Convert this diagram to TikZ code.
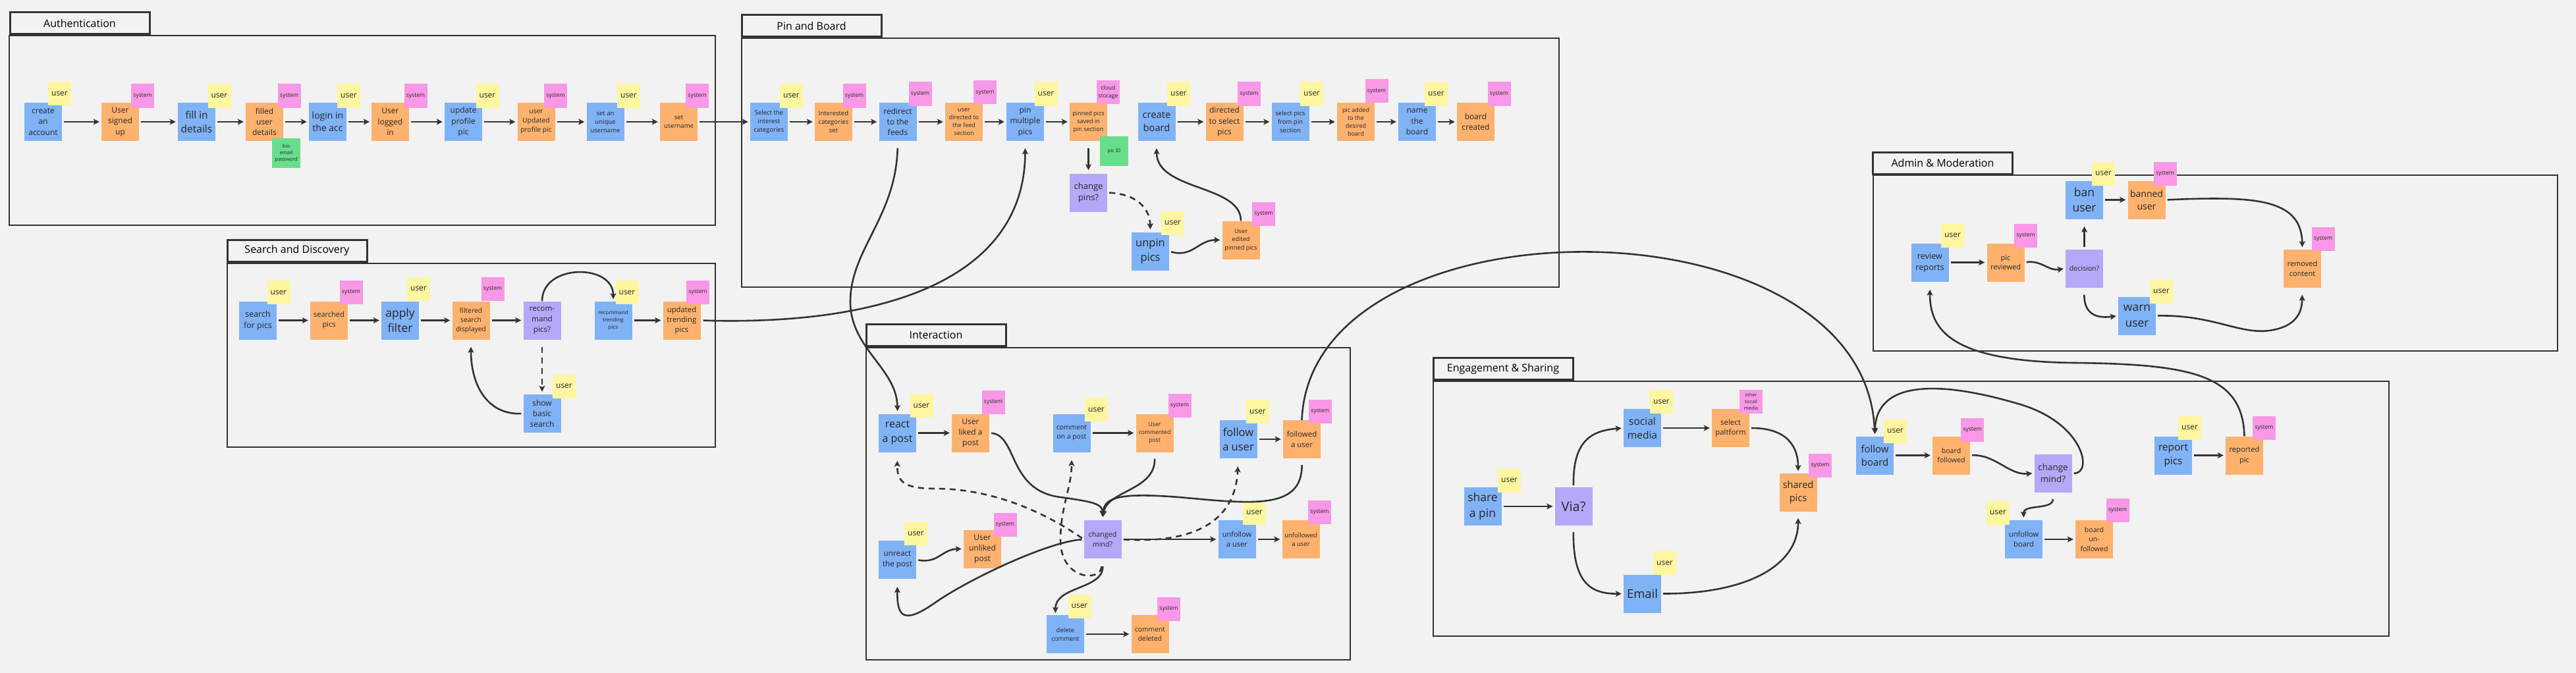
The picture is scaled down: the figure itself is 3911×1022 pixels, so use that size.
\documentclass[tikz,border=0pt]{standalone}
\usepackage{fontspec}
\setmainfont{Open Sans}
\usepackage{xcolor}
\usetikzlibrary{arrows.meta, positioning}
\definecolor{bg}{HTML}{F2F2F2}
\definecolor{ink}{HTML}{333333}
\definecolor{skyb}{HTML}{80B2F6}
\definecolor{peach}{HTML}{FFB26E}
\definecolor{lemon}{HTML}{FFF6A0}
\definecolor{rose}{HTML}{F898E6}
\definecolor{lilac}{HTML}{B6A8F8}
\definecolor{mint}{HTML}{68DE8C}

\begin{document}
\begin{tikzpicture}[x=1pt, y=-1pt,
    fs/.style={font={\pgfmathsetmacro\fsb{1.36*#1}\fontsize{#1}{\fsb}\selectfont}},
    sticky/.style={minimum width=57pt, minimum height=58pt, inner sep=0pt, align=center, text=black!85},
    act/.style={sticky, fill=skyb},
    evt/.style={sticky, fill=peach},
    ask/.style={sticky, fill=lilac},
    tag/.style={minimum width=35pt, minimum height=36pt, inner sep=0pt, align=center, text=black!85},
    usr/.style={tag, fill=lemon, fs=12},
    sys/.style={tag, fill=rose, fs=8.5},
    note/.style={tag, fill=mint, minimum width=43pt, minimum height=45pt, fs=7.6},
    flow/.style={draw=ink, line width=2.6pt, -{Stealth[length=9pt, width=9pt, inset=2pt]}, shorten <=3pt, shorten >=3pt},
    maybe/.style={flow, dash pattern=on 9pt off 7pt},
    lane/.style={draw=ink, line width=2.5pt},
    ttl/.style={draw=ink, line width=3pt, fill=bg, minimum width=212pt, minimum height=33pt, inner sep=0pt, fs=16}
  ]

    % Canvas
    \fill[bg] (0,0) rectangle (3911,1022);
    \useasboundingbox (0,0) rectangle (3911,1022);

    % Lanes with their title tabs
    \draw[lane] (14,54) rectangle (1086,342);
    \node[ttl] (authT) at (121,35.5) {Authentication};
    \draw[lane] (1126,58) rectangle (2367,436);
    \node[ttl] (pinT) at (1232,39.5) {Pin and Board};
    \draw[lane] (345,400) rectangle (1086,679);
    \node[ttl] (searchT) at (451,380.5) {Search and Discovery};
    \draw[lane] (1315,528) rectangle (2050,1002);
    \node[ttl] (interT) at (1421,509) {Interaction};
    \draw[lane] (2844,266) rectangle (3883,533);
    \node[ttl] (adminT) at (2949.5,247.5) {Admin \& Moderation};
    \draw[lane] (2176,579) rectangle (3627,966);
    \node[ttl] (engT) at (2282,560) {Engagement \& Sharing};

    % --- AUTHENTICATION ---
    \node[act, fs=12] (acc) at (65.5,185) {create\\an\\account};
    \node[evt, fs=12] (signed) at (182.5,185) {User\\signed\\up};
    \node[act, fs=15.5] (fill) at (298.5,185) {fill in\\details};
    \node[evt, fs=12] (filled) at (401.5,185) {filled\\user\\details};
    \node[act, fs=14] (login) at (497.5,185) {login in\\the acc};
    \node[evt, fs=12] (logged) at (592.5,185) {User\\logged\\in};
    \node[act, fs=12] (upd) at (703.5,185) {update\\profile\\pic};
    \node[evt, fs=10.3] (updd) at (814,185) {user\\Updated\\profile pic};
    \node[act, fs=9.5] (setun) at (919,185) {set an\\unique\\username};
    \node[evt, fs=9.5] (setd) at (1030.5,185) {set\\username};
    \node[usr] (accU) at (90.5,142) {user};
    \node[sys] (signedS) at (216.5,145.5) {system};
    \node[usr] (fillU) at (333,145.5) {user};
    \node[sys] (filledS) at (439,145.5) {system};
    \node[note] (filledN) at (434.5,232.5) {bio\\email\\password};
    \node[usr] (loginU) at (529.5,145.5) {user};
    \node[sys] (loggedS) at (631,145.5) {system};
    \node[usr] (updU) at (740,145.5) {user};
    \node[sys] (upddS) at (843.5,145.5) {system};
    \node[usr] (setunU) at (954.5,145.5) {user};
    \node[sys] (setdS) at (1058.5,145.5) {system};

    % --- PIN AND BOARD ---
    \node[act, fs=9.5] (sel) at (1167.5,185) {Select the\\interest\\categories};
    \node[evt, fs=9.5] (intset) at (1265.5,185) {Interested\\categories\\set};
    \node[act, fs=12] (redir) at (1363,185) {redirect\\to the\\feeds};
    \node[evt, fs=9] (feedsec) at (1463.5,185) {user\\directed to\\the feed\\section};
    \node[act, fs=12] (pinmul) at (1556.5,185) {pin\\multiple\\pics};
    \node[evt, fs=9] (pinsaved) at (1652.5,185) {pinned pics\\saved in\\pin section};
    \node[ask, fs=13] (cpins) at (1652.5,292.5) {change\\pins?};
    \node[act, fs=16.5] (unpin) at (1746.5,381.5) {unpin\\pics};
    \node[evt, fs=9.2] (edited) at (1884,364.5) {User\\edited\\pinned pics};
    \node[act, fs=14.7] (cboard) at (1756,185) {create\\board};
    \node[evt, fs=12] (dirsel) at (1859,185) {directed\\to select\\pics};
    \node[act, fs=9.5] (selpics) at (1959,185) {select pics\\from pin\\section};
    \node[evt, fs=9] (picadd) at (2058.5,185) {pic added\\to the\\desired\\board};
    \node[act, fs=12] (nameb) at (2151.5,185) {name\\the\\board};
    \node[evt, fs=12] (bcreated) at (2240.5,185) {board\\created};
    \node[usr] (selU) at (1201.5,145.5) {user};
    \node[sys] (intsetS) at (1297,145.5) {system};
    \node[sys] (redirS) at (1397,142.5) {system};
    \node[sys] (feedsecS) at (1495.5,140.5) {system};
    \node[usr] (pinmulU) at (1588,142.5) {user};
    \node[sys, fs=8.5] (pinsavedS) at (1682.5,140.5) {cloud\\storage};
    \node[note] (pinsavedN) at (1691.5,229.5) {pic ID};
    \node[usr] (unpinU) at (1780.5,338.5) {user};
    \node[sys] (editedS) at (1918.5,325) {system};
    \node[usr] (cboardU) at (1789.5,142.5) {user};
    \node[sys] (dirselS) at (1896.5,142.5) {system};
    \node[usr] (selpicsU) at (1991.5,142.5) {user};
    \node[sys] (picaddS) at (2090,138.5) {system};
    \node[usr] (namebU) at (2180.5,142.5) {user};
    \node[sys] (bcreatedS) at (2276,142.5) {system};

    % --- SEARCH AND DISCOVERY ---
    \node[act, fs=12.5] (srch) at (391.5,486.5) {search\\for pics};
    \node[evt, fs=11] (srchd) at (499.5,486.5) {searched\\pics};
    \node[act, fs=17.5] (filt) at (607.5,486.5) {apply\\filter};
    \node[evt, fs=10.3] (filtd) at (715,486.5) {filtered\\search\\displayed};
    \node[ask, fs=11.7] (recq) at (823,486.5) {recom-\\mand\\pics?};
    \node[act, fs=8] (rectr) at (931,486.5) {recommand\\trending\\pics};
    \node[evt, fs=11.3] (updtr) at (1035,486.5) {updated\\trending\\pics};
    \node[act, fs=12] (basic) at (823,628) {show\\basic\\search};
    \node[usr] (srchU) at (423,444) {user};
    \node[sys] (srchdS) at (533,444) {system};
    \node[usr] (filtU) at (635.5,438.5) {user};
    \node[sys] (filtdS) at (748,438.5) {system};
    \node[usr] (rectrU) at (952,444) {user};
    \node[sys] (updtrS) at (1059.5,444) {system};
    \node[usr] (basicU) at (856.5,586.5) {user};

    % --- INTERACTION ---
    \node[act, fs=16] (react) at (1362.5,657.5) {react\\a post};
    \node[evt, fs=12] (liked) at (1473.5,657.5) {User\\liked a\\post};
    \node[act, fs=10.3] (cmt) at (1627,657.5) {comment\\on a post};
    \node[evt, fs=8.6] (cmtd) at (1753,657.5) {User\\commented\\post};
    \node[act, fs=16.5] (fol) at (1880,667) {follow\\a user};
    \node[evt, fs=11.4] (fold) at (1976.5,667) {followed\\a user};
    \node[act, fs=11.7] (unreact) at (1362.5,850) {unreact\\the post};
    \node[evt, fs=12] (unliked) at (1491.5,833.5) {User\\unliked\\post};
    \node[ask, fs=10.7] (cmind) at (1674,819) {changed\\mind?};
    \node[act, fs=11] (unfol) at (1878,819) {unfollow\\a user};
    \node[evt, fs=9.5] (unfold) at (1975,819) {unfollowed\\a user};
    \node[act, fs=9.5] (delc) at (1617.5,963) {delete\\comment};
    \node[evt, fs=10.3] (cdel) at (1746,963) {comment\\deleted};
    \node[usr] (reactU) at (1399,616) {user};
    \node[sys] (likedS) at (1508,610.5) {system};
    \node[usr] (cmtU) at (1664.5,622) {user};
    \node[sys] (cmtdS) at (1791,616) {system};
    \node[usr] (folU) at (1909.5,625) {user};
    \node[sys] (foldS) at (2004.5,625) {system};
    \node[usr] (unreactU) at (1390.5,810) {user};
    \node[sys] (unlikedS) at (1526,796.5) {system};
    \node[usr] (unfolU) at (1904.5,778.5) {user};
    \node[sys] (unfoldS) at (2003.5,778) {system};
    \node[usr] (delcU) at (1639,920.5) {user};
    \node[sys] (cdelS) at (1774.5,925) {system};

    % --- ADMIN & MODERATION ---
    \node[act, fs=12.7] (review) at (2930,398.5) {review\\reports};
    \node[evt, fs=11] (picrev) at (3045,398.5) {pic\\reviewed};
    \node[ask, fs=10.6] (dec) at (3164.5,407.5) {decision?};
    \node[act, fs=17.5] (ban) at (3164.5,303.5) {ban\\user};
    \node[evt, fs=14] (banned) at (3259,303.5) {banned\\user};
    \node[act, fs=17.5] (warn) at (3244.5,479.5) {warn\\user};
    \node[evt, fs=11] (removed) at (3495.5,407.5) {removed\\content};
    \node[usr] (reviewU) at (2964.5,357.5) {user};
    \node[sys] (picrevS) at (3075.5,357.5) {system};
    \node[usr] (banU) at (3193.5,263.5) {user};
    \node[sys] (bannedS) at (3287,263.5) {system};
    \node[usr] (warnU) at (3281.5,442.5) {user};
    \node[sys] (removedS) at (3527,363) {system};

    % --- ENGAGEMENT & SHARING ---
    \node[act, fs=17.5] (share) at (2251,769) {share\\a pin};
    \node[ask, fs=20] (via) at (2389,769) {Via?};
    \node[act, fs=15.5] (social) at (2493.5,650) {social\\media};
    \node[evt, fs=11.4] (platf) at (2627.5,650) {select\\paltform};
    \node[evt, fs=14.5] (shared) at (2730,747.5) {shared\\pics};
    \node[act, fs=18.4] (email) at (2493.5,901.5) {Email};
    \node[act, fs=14.9] (fboard) at (2846.5,691.5) {follow\\board};
    \node[evt, fs=10.6] (bfold) at (2962.5,691.5) {board\\followed};
    \node[ask, fs=13.4] (chmind) at (3117,718.5) {change\\mind?};
    \node[act, fs=11.2] (unfb) at (3072.5,819) {unfollow\\board};
    \node[evt, fs=10.5] (bunf) at (3179.5,819) {board\\un-\\followed};
    \node[act, fs=15.4] (rep) at (3299.5,691.5) {report\\pics};
    \node[evt, fs=11.2] (repd) at (3407.5,691.5) {reported\\pic};
    \node[usr] (shareU) at (2291.5,729.5) {user};
    \node[usr] (socialU) at (2522.5,610) {user};
    \node[sys, fs=7.3] (platfS) at (2658.5,610) {other\\socail\\media};
    \node[sys] (sharedS) at (2763.5,706.5) {system};
    \node[usr] (emailU) at (2527.5,855) {user};
    \node[usr] (fboardU) at (2877.5,654.5) {user};
    \node[sys] (bfoldS) at (2994.5,652.5) {system};
    \node[usr] (unfbU) at (3033.5,778.5) {user};
    \node[sys] (bunfS) at (3215,774.5) {system};
    \node[usr] (repU) at (3324.5,649.5) {user};
    \node[sys] (repdS) at (3437.5,649.5) {system};

    % --- CONNECTORS: authentication into pin and board ---
    \draw[flow] (acc.east) -- (signed.west);
    \draw[flow] (signed.east) -- (fill.west);
    \draw[flow] (fill.east) -- (filled.west);
    \draw[flow] (filled.east) -- (login.west);
    \draw[flow] (login.east) -- (logged.west);
    \draw[flow] (logged.east) -- (upd.west);
    \draw[flow] (upd.east) -- (updd.west);
    \draw[flow] (updd.east) -- (setun.west);
    \draw[flow] (setun.east) -- (setd.west);
    \draw[flow] (setd.east) -- (sel.west);

    % Pin and board
    \draw[flow] (sel.east) -- (intset.west);
    \draw[flow] (intset.east) -- (redir.west);
    \draw[flow] (redir.east) -- (feedsec.west);
    \draw[flow] (feedsec.east) -- (pinmul.west);
    \draw[flow] (pinmul.east) -- (pinsaved.west);
    \draw[flow, shorten <=11pt, shorten >=5pt] (pinsaved.south) -- (cpins.north);
    \draw[maybe, shorten >=4pt] (cpins.east) .. controls (1730,295) and (1746,320) .. (unpin.north);
    \draw[flow] (unpin.east) .. controls (1810,392) and (1820,364) .. (edited.west);
    \draw[flow, shorten <=0pt, shorten >=11pt] (edited.north) .. controls (1884,280) and (1756,290) .. (cboard.south);
    \draw[flow] (cboard.east) -- (dirsel.west);
    \draw[flow] (dirsel.east) -- (selpics.west);
    \draw[flow] (selpics.east) -- (picadd.west);
    \draw[flow] (picadd.east) -- (nameb.west);
    \draw[flow] (nameb.east) -- (bcreated.west);

    % Search and discovery
    \draw[flow] (srch.east) -- (srchd.west);
    \draw[flow] (srchd.east) -- (filt.west);
    \draw[flow] (filt.east) -- (filtd.west);
    \draw[flow] (filtd.east) -- (recq.west);
    \draw[flow] (rectr.east) -- (updtr.west);
    \draw[flow, shorten <=0pt] (recq.north) .. controls (823,400) and (931,400) .. (rectr.north);
    \draw[maybe, shorten <=11pt, shorten >=4pt] (recq.south) -- (basic.north);
    \draw[flow, shorten >=11pt] (basic.west) .. controls (740,630) and (715,585) .. (filtd.south);

    % Links across lanes
    \draw[flow, shorten <=11pt, shorten >=4pt] (redir.south) .. controls (1360,330) and (1290,380) .. (1291,460) .. controls (1292,530) and (1362,560) .. (react.north);
    \draw[flow, shorten <=4pt, shorten >=11pt] (updtr.east) .. controls (1350,495) and (1556,420) .. (pinmul.south);
    \draw[flow, shorten <=0pt, shorten >=4pt] (fold.north) .. controls (1990,295) and (2830,295) .. (fboard.north);
    \draw[flow, shorten <=0pt, shorten >=12pt] (repd.north) .. controls (3405,570) and (3330,553) .. (3150,551) .. controls (2960,549) and (2930,500) .. (review.south);

    % Interaction
    \draw[flow] (react.east) -- (liked.west);
    \draw[flow] (cmt.east) -- (cmtd.west);
    \draw[flow] (fol.east) -- (fold.west);
    \draw[flow] (unreact.east) .. controls (1425,856) and (1430,834) .. (unliked.west);
    \draw[flow] (cmind.east) -- (unfol.west);
    \draw[flow] (unfol.east) -- (unfold.west);
    \draw[flow] (delc.east) -- (cdel.west);
    \draw[flow, shorten >=5pt] (liked.east) .. controls (1545,661) and (1530,745) .. (1610,755) .. controls (1660,762) and (1674,765) .. (cmind.north);
    \draw[flow, shorten <=10pt, shorten >=5pt] (cmtd.south) .. controls (1754,745) and (1680,745) .. (cmind.north);
    \draw[flow, shorten <=10pt, shorten >=5pt] (fold.south) .. controls (1977,775) and (1900,765) .. (1790,755) .. controls (1700,748) and (1676,755) .. (cmind.north);
    \draw[flow, shorten >=12pt] (cmind.west) .. controls (1590,823) and (1470,880) .. (1420,915) .. controls (1370,950) and (1362,935) .. (unreact.south);
    \draw[flow, shorten <=12pt] (cmind.south) .. controls (1675,895) and (1602,890) .. ([xshift=-15pt]delc.north);
    \draw[maybe, shorten >=13pt] (cmind.west) .. controls (1560,760) and (1480,742) .. (1420,742) .. controls (1370,742) and (1362,730) .. (react.south);
    \draw[maybe, shorten <=12pt, shorten >=12pt] (cmind.south) .. controls (1670,885) and (1610,880) .. (1610,820) .. controls (1610,770) and (1627,740) .. (cmt.south);
    \draw[maybe, shorten >=12pt] (cmind.east) .. controls (1800,825) and (1875,800) .. (fol.south);

    % Admin and moderation
    \draw[flow] (review.east) -- (picrev.west);
    \draw[flow] (picrev.east) .. controls (3100,395) and (3110,412) .. (dec.west);
    \draw[flow, shorten >=11pt] (dec.north) -- (ban.south);
    \draw[flow, shorten <=11pt] (dec.south) .. controls (3164,482) and (3190,483) .. (warn.west);
    \draw[flow] (ban.east) -- (banned.west);
    \draw[flow] (banned.east) .. controls (3420,298) and (3494,300) .. (removed.north);
    \draw[flow, shorten >=11pt] (warn.east) .. controls (3360,478) and (3400,508) .. (3445,502) .. controls (3490,496) and (3495,470) .. (removed.south);

    % Engagement and sharing
    \draw[flow] (share.east) -- (via.west);
    \draw[flow] (via.north) .. controls (2388,670) and (2415,654) .. (social.west);
    \draw[flow, shorten <=10pt] (via.south) .. controls (2388,885) and (2415,902) .. (email.west);
    \draw[flow] (social.east) -- (platf.west);
    \draw[flow] (platf.east) .. controls (2715,650) and (2730,680) .. (shared.north);
    \draw[flow, shorten >=10pt] (email.east) .. controls (2650,902) and (2730,860) .. (shared.south);
    \draw[flow] (fboard.east) -- (bfold.west);
    \draw[flow] (bfold.east) .. controls (3030,690) and (3050,722) .. (chmind.west);
    \draw[flow, shorten <=10pt, shorten >=4pt] (chmind.south) .. controls (3117,775) and (3072,765) .. (unfb.north);
    \draw[flow] (unfb.east) -- (bunf.west);
    \draw[flow] (chmind.east) .. controls (3178,720) and (3165,640) .. (3060,612) .. controls (2950,580) and (2848,575) .. (fboard.north);
    \draw[flow] (rep.east) -- (repd.west);

\end{tikzpicture}
\end{document}
